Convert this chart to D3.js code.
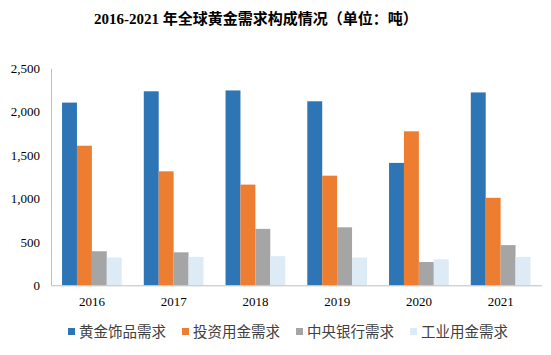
<!DOCTYPE html>
<html><head><meta charset="utf-8">
<script src="https://cdn.jsdelivr.net/npm/d3@7"></script>
<style>body{margin:0;background:#fff}svg{display:block}</style>
</head><body>
<svg id="c" width="551" height="355"></svg>
<script>
const title = "2016-2021 年全球黄金需求构成情况（单位：吨）";
const years = ["2016","2017","2018","2019","2020","2021"];
const seriesNames = ["黄金饰品需求","投资用金需求","中央银行需求","工业用金需求"];
const jewelry = [2105, 2235, 2245, 2120, 1410, 2222];
const investment = [1608, 1313, 1160, 1263, 1774, 1008];
const centralBank = [392, 380, 650, 668, 268, 463];
const industrial = [320, 326, 336, 320, 300, 326];
const yTicks = [0, 500, 1000, 1500, 2000, 2500];
const colors = ["#2E75B6","#ED7D31","#A5A5A5","#DDEBF7"];

const seriesValues = [jewelry, investment, centralBank, industrial];
const svg = d3.select("#c");
const m = {left:51, right:9.5, top:68.3, bottom:69.7};
const W = 551 - m.left - m.right, H = 355 - m.top - m.bottom;
const g = svg.append("g").attr("transform",`translate(${m.left},${m.top})`);

const x0 = d3.scaleBand().domain(years).range([0,W]).paddingInner(0.27).paddingOuter(0.135);
const x1 = d3.scaleBand().domain(d3.range(4)).range([0,x0.bandwidth()]);
const y = d3.scaleLinear().domain([0,2500]).range([H,0]);

// bars
years.forEach((yr,i)=>{
  const gg = g.append("g").attr("transform",`translate(${x0(yr)},0)`);
  seriesValues.forEach((vals,s)=>{
    gg.append("rect").attr("x",x1(s)).attr("width",x1.bandwidth())
      .attr("y",y(vals[i])).attr("height",H-y(vals[i])).attr("fill",colors[s]);
  });
});

// y axis
const ya = g.append("g").call(d3.axisLeft(y).tickValues(yTicks).tickFormat(d3.format(",")).tickSize(0).tickPadding(11));
ya.select(".domain").attr("stroke","#BFBFBF");
ya.selectAll("text").attr("font-family","'Liberation Serif','Times New Roman',serif").attr("font-size",13).attr("fill","#000");

// x axis
const xa = g.append("g").attr("transform",`translate(0,${H})`).call(d3.axisBottom(x0).tickSize(0).tickPadding(11));
xa.select(".domain").attr("stroke","#BFBFBF");
xa.selectAll("text").attr("font-family","'Liberation Serif','Times New Roman',serif").attr("font-size",13).attr("fill","#000");

// title
const t = svg.append("text").attr("x",256).attr("y",24).attr("text-anchor","middle")
  .attr("font-weight","bold").attr("font-size",15).attr("fill","#000");
t.append("tspan").attr("font-family","'Liberation Serif','Times New Roman',serif").text("2016-2021 ");
t.append("tspan").attr("font-family","'Noto Sans CJK SC',sans-serif").text(title.slice(10));

// legend
const lg = svg.append("g");
seriesNames.forEach((n,i)=>{
  const lx = 68 + i*114;
  lg.append("rect").attr("x",lx).attr("y",328).attr("width",7).attr("height",7).attr("fill",colors[i]);
  lg.append("text").attr("x",lx+11).attr("y",337).attr("font-family","'Noto Sans CJK SC',sans-serif")
    .attr("font-size",14.5).attr("fill","#404040").text(n);
});
</script>
</body></html>
